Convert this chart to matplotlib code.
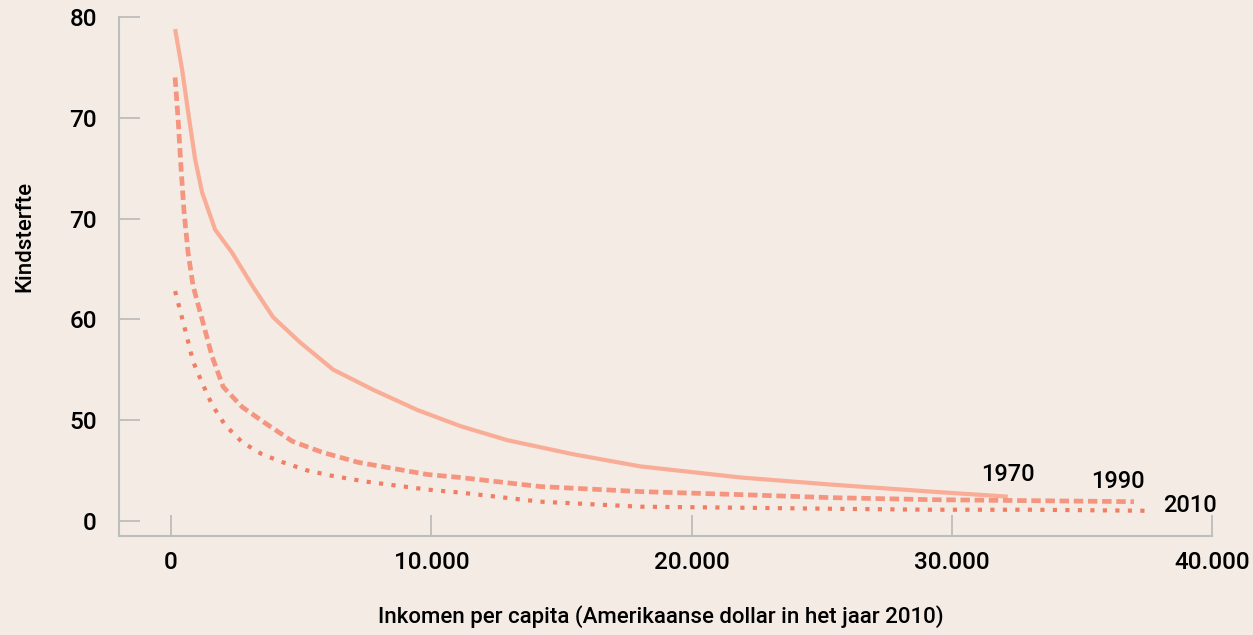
import matplotlib.pyplot as plt

# Kindsterfte vs inkomen per capita
# y values are positions on the chart's (oddly labelled) y axis
ytick_pos = [0, 10, 20, 30, 40, 50]
ytick_labels = ["0", "50", "60", "70", "70", "80"]
xtick_pos = [0, 10000, 20000, 30000, 40000]
xtick_labels = ["0", "10.000", "20.000", "30.000", "40.000"]

x_1970 = [154, 423, 654, 923, 1192, 1692, 2346, 3154, 3923, 4962, 6231, 7769,
          9462, 11115, 12923, 15462, 18038, 21885, 25346, 29192, 32154]
y_1970 = [48.8, 44.8, 40.6, 35.9, 32.6, 28.9, 26.6, 23.2, 20.2, 17.7, 15.0, 13.0,
          11.0, 9.4, 8.0, 6.6, 5.4, 4.3, 3.6, 2.9, 2.4]

x_1990 = [154, 269, 385, 500, 654, 846, 1192, 1577, 2000, 2731, 3615, 4654,
          5808, 7192, 9846, 11115, 14192, 18038, 21885, 25346, 29192, 33038, 37000]
y_1990 = [44.0, 39.9, 34.9, 30.6, 26.6, 23.3, 20.0, 16.3, 13.3, 11.3, 9.7, 7.9,
          6.8, 5.8, 4.6, 4.3, 3.4, 2.9, 2.6, 2.3, 2.1, 2.0, 1.9]

x_2010 = [154, 385, 615, 846, 1192, 1577, 2077, 2731, 3500, 4308, 5231, 6115,
          7462, 9846, 11115, 14192, 18038, 21885, 25346, 29192, 33038, 37462]
y_2010 = [22.8, 20.5, 18.2, 15.8, 13.7, 11.5, 9.5, 7.8, 6.6, 5.8, 5.0, 4.5,
          3.9, 3.1, 2.8, 1.9, 1.4, 1.3, 1.2, 1.1, 1.1, 1.0]

bg = "#F3EBE4"
grey = "#BDBDBD"
plt.rcParams["font.family"] = ["Roboto", "DejaVu Sans"]
plt.rcParams["font.weight"] = "medium"

fig = plt.figure(figsize=(12.53, 6.35), dpi=100, facecolor=bg)
ax = fig.add_axes([0.095, 0.156, 0.8723, 0.8173], facecolor=bg)

ax.plot(x_1970, y_1970, color="#F9AD97", lw=3.0, solid_capstyle="butt",
        solid_joinstyle="round")
ax.plot(x_1990, y_1990, color="#F5957F", lw=3.4, linestyle=(0, (2.0, 1.0)),
        dash_capstyle="butt")
ax.plot(x_2010, y_2010, color="#F07E64", lw=3.0, linestyle=(0, (1.0, 2.0)),
        dash_capstyle="butt")

ax.text(32150, 4.6, "1970", fontsize=17, ha="center", va="center")
ax.text(36380, 3.9, "1990", fontsize=17, ha="center", va="center")
ax.text(39150, 1.5, "2010", fontsize=17, ha="center", va="center")

ax.set_xlim(-2000, 40000)
ax.set_ylim(-1.5, 50)
ax.set_xticks(xtick_pos, xtick_labels)
ax.set_yticks(ytick_pos, ytick_labels)
ax.tick_params(axis="both", direction="in", length=15, width=1.3, color=grey,
               labelsize=17.5)
ax.tick_params(axis="y", pad=16)
ax.tick_params(axis="x", pad=11)

for s in ["top", "right"]:
    ax.spines[s].set_visible(False)
for s in ["left", "bottom"]:
    ax.spines[s].set_color(grey)
    ax.spines[s].set_linewidth(1.5)

fig.text(661 / 1253, 1 - 617 / 635,
         "Inkomen per capita (Amerikaanse dollar in het jaar 2010)",
         fontsize=16, ha="center", va="center")
fig.text(25 / 1253, 1 - 236 / 635, "Kindsterfte", fontsize=16, rotation=90,
         ha="center", va="center")

plt.savefig("out.png", dpi=100, facecolor=bg)
